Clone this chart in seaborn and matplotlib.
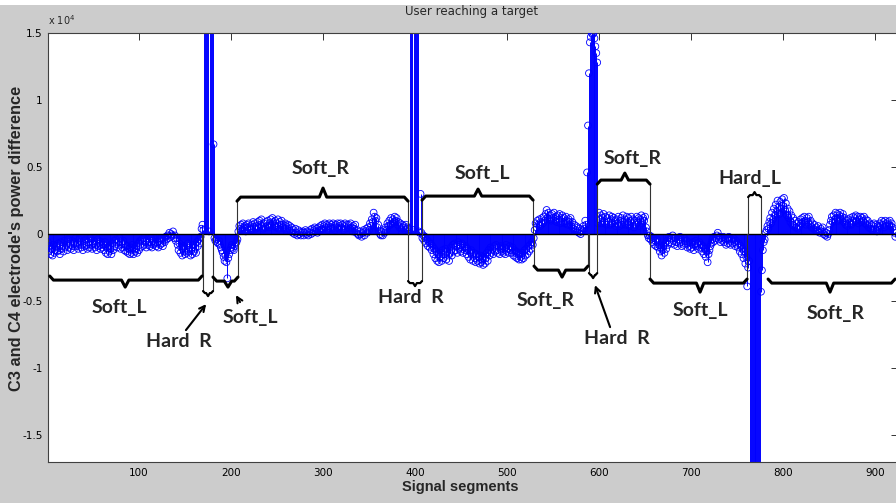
import numpy as np
import matplotlib
matplotlib.use("Agg")
import matplotlib.pyplot as plt
from matplotlib.patches import Rectangle
from matplotlib.ticker import FuncFormatter
import seaborn as sns

# C3 - C4 power difference per signal segment, in hundreds, one list per movement block
soft_l_1 = [
    -6, -13, -9, -15, -11, -16, -8, -14, -12, -9,
    -13, -7, -12, -15, -6, -11, -9, -13, -5, -10,
    -8, -12, -4, -10, -7, -11, -5, -9, -12, -6,
    -3, -9, -7, -11, -4, -8, -10, -6, -12, -5,
    -9, -4, -8, -11, -6, -10, -3, -8, -11, -7,
    -5, -10, -8, -12, -4, -9, -7, -11, -6, -10,
    -8, -12, -6, -14, -10, -15, -9, -13, -11, -15,
    -7, -12, -5, -9, -4, -10, -6, -8, -3, -11,
    -6, -10, -5, -12, -8, -13, -9, -14, -11, -15,
    -10, -14, -8, -15, -11, -13, -9, -14, -7, -12,
    -5, -10, -4, -9, -3, -8, -6, -10, -4, -8,
    -6, -9, -3, -10, -5, -8, -7, -4, -9, -6,
    -10, -4, -8, -3, -7, -9, -5, -6, -2, -4,
    -1, -3, 1, -2, 0, -1, 2, -3, -1, -5,
    -3, -8, -12, -7, -14, -10, -16, -9, -13, -15,
    -11, -14, -7, -13, -10, -16, -12, -15, -8, -13,
    -10, -14, -6, -9, -4, -7, -2, 4, 7,
]
hard_r_1 = [3, 260, 310, 280, 350, 240, 2, 300, 270, 330, 290, 67]
soft_l_2 = [
    -3, -5, -4, -6, -7, -5, -8, -10, -12, -14,
    -17, -20, -16, -21, -33, -18, -15, -12, -10, -8,
    -11, -12, -9, -7, -6, -4,
]
soft_r_1 = [
    2, 6, 4, 7, 3, 8, 5, 6, 2, 7,
    5, 8, 4, 6, 3, 7, 9, 5, 8, 4,
    6, 9, 5, 10, 7, 11, 6, 4, 8, 5,
    9, 6, 10, 5, 8, 11, 7, 12, 9, 6,
    10, 5, 8, 11, 4, 9, 7, 10, 5, 7,
    4, 8, 6, 3, 7, 4, 6, 2, 5, 1,
    3, 0, 4, 1, -1, 3, 0, 2, -1, 1,
    2, -1, 1, 3, 0, 2, -1, 1, 3, 0,
    4, 1, 3, 5, 2, 4, 1, 5, 3, 6,
    3, 7, 4, 6, 8, 5, 7, 3, 6, 8,
    5, 7, 4, 8, 6, 3, 7, 5, 8, 4,
    6, 8, 5, 7, 3, 6, 8, 4, 7, 5,
    7, 4, 8, 5, 2, 6, 4, 7, 1, 3,
    0, -1, 2, 0, -2, 1, 3, -1, 2, 4,
    1, 5, 3, 8, 6, 11, 9, 16, 13, 10,
    12, 5, 7, 2, 0, -1, 2, -1, 3, 1,
    5, 3, 8, 6, 10, 7, 12, 8, 11, 9,
    13, 10, 12, 7, 9, 5, 8, 4, 7, 5,
    6, 3, 7, 4, 5, 2, 4,
]
hard_r_2 = [290, 340, 260, 3, 310, 280, 360, 300, 250, 2, 1, 30]
soft_l_3 = [
    1, -3, -1, -5, -2, -7, -4, -9, -6, -10,
    -7, -12, -9, -15, -11, -18, -13, -20, -15, -21,
    -17, -14, -20, -12, -18, -15, -11, -19, -13, -16,
    -20, -14, -10, -16, -8, -13, -7, -12, -9, -14,
    -6, -11, -8, -13, -7, -14, -10, -12, -9, -15,
    -11, -17, -13, -19, -12, -16, -20, -14, -18, -21,
    -15, -20, -17, -22, -16, -21, -19, -23, -17, -22,
    -18, -14, -20, -12, -16, -10, -14, -11, -15, -9,
    -13, -8, -12, -14, -10, -15, -9, -13, -11, -14,
    -10, -15, -8, -13, -11, -14, -9, -12, -14, -10,
    -16, -12, -17, -13, -18, -14, -19, -15, -17, -19,
    -14, -18, -12, -16, -11, -15, -9, -13, -8, -11,
    -6, -8, -3,
]
soft_r_2 = [
    3, 8, 5, 10, 7, 11, 6, 9, 12, 8,
    13, 10, 15, 18, 12, 16, 11, 14, 10, 15,
    12, 16, 10, 13, 9, 14, 11, 15, 8, 12,
    14, 9, 12, 8, 13, 10, 7, 11, 9, 12,
    6, 9, 4, 7, 3, 6, 2, 5, 1, 4,
    0, 3, 2, 6, 4, 10, 7,
]
hard_r_3 = [46, 81, 120, 143, 147, 150, 149, 150, 146, 140, 135, 128]
soft_r_3 = [
    8, 16, 11, 14, 8, 12, 15, 9, 13, 7,
    12, 9, 14, 7, 11, 13, 8, 12, 10, 6,
    11, 8, 13, 6, 10, 12, 7, 14, 9, 11,
    7, 13, 9, 12, 6, 10, 13, 8, 11, 5,
    10, 7, 13, 9, 12, 6, 11, 14, 8, 12,
    10, 13, 5, 2, -1, -3,
]
soft_l_4 = [
    -1, -4, -2, -6, -3, -8, -5, -9, -4, -10,
    -8, -13, -10, -16, -12, -9, -14, -7, -11, -5,
    -8, -2, -6, -3, -7, -1, -5, -8, -3, -6,
    -9, -4, -7, -2, -6, -9, -5, -8, -3, -7,
    -5, -10, -6, -9, -11, -7, -10, -6, -12, -8,
    -5, -9, -7, -11, -6, -10, -8, -13, -9, -15,
    -11, -17, -13, -21, -15, -12, -9, -7, -4, -6,
    -2, -5, -3, -1, 1, -4, -2, -6, -3, -5,
    -2, -6, -4, -8, -3, -7, -2, -5, -8, -4,
    -7, -3, -6, -9, -5, -8, -10, -7, -13, -9,
    -15, -11, -18, -13, -22, -17, -39, -25, -20,
]
hard_l_1 = [-250, -320, -400, -380, -450, -300, -350, -420, -380, -330, -290, -260]
soft_r_4 = [
    -43, -27, -12, -6, -4, 1, 3, 6, 4, 9,
    12, 8, 16, 11, 19, 14, 22, 17, 25, 20,
    15, 24, 19, 26, 21, 27, 18, 23, 14, 19,
    12, 17, 9, 14, 7, 12, 6, 10, 5, 8,
    4, 9, 6, 11, 8, 12, 9, 13, 10, 7,
    12, 9, 13, 7, 10, 5, 8, 4, 7, 3,
    5, 2, 6, 3, 1, 4, 2, 5, 0, 2,
    -1, 1, -2, 0, 3, 7, 10, 13, 9, 14,
    11, 16, 12, 15, 10, 14, 16, 11, 13, 15,
    9, 12, 7, 10, 6, 11, 8, 12, 7, 10,
    13, 9, 12, 14, 10, 13, 8, 11, 13, 9,
    12, 10, 13, 8, 11, 7, 10, 5, 8, 4,
    7, 3, 6, 8, 4, 7, 2, 6, 5, 8,
    6, 10, 7, 9, 5, 10, 8, 6, 9, 7,
    10, 6, 8, 5, 3, 1, -2,
]

blocks = [soft_l_1, hard_r_1, soft_l_2, soft_r_1, hard_r_2, soft_l_3,
          soft_r_2, hard_r_3, soft_r_3, soft_l_4, hard_l_1, soft_r_4]
power_diff = np.concatenate([np.array(b, dtype=float) for b in blocks]) * 100
segment = np.arange(1, len(power_diff) + 1)

# brace annotations: x start, x end, line y, tip x, tip y, connector lines
braces = [
    (3, 168.5, -3430, 85, -3954, "r"),
    (180.4, 207.6, -3506, 196.7, -3954, "r"),
    (206.5, 392.4, 2760, 300, 3432, "lr"),
    (407.6, 528.3, 2835, 468.5, 3357, "lr"),
    (529.3, 588, -2686, 559.8, -3208, "lr"),
    (598, 655.4, 4028, 628, 4551, "lr"),
    (655.4, 760.9, -3655, 709.8, -4327, "lr"),
    (783.7, 921.7, -3655, 851, -4327, ""),
]
# narrow boxes marking the hard movements
hard_boxes = [
    (169.6, 180.4, -4400, 175, -4625),
    (392.4, 407.6, -3655, 400, -3879),
    (589, 598, -3059, 593.5, -3282),
    (762, 776, 2909, 769, 3133),
]
labels = [
    ("Soft_L", 79, -5446), ("Hard  R", 143.5, -7982), ("Soft_L", 220.7, -6192),
    ("Soft_R", 297, 4924), ("Hard  R", 395.7, -4745), ("Soft_L", 473, 4551),
    ("Soft_R", 542, -4924), ("Hard  R", 619.6, -7759), ("Soft_R", 636, 5670),
    ("Soft_L", 710, -5670), ("Hard_L", 764, 4178), ("Soft_R", 857.6, -5893),
]
arrows = [
    ((173, -5222), (151, -7162)),
    ((205.4, -4551), (209.8, -5073)),
    ((595.6, -3805), (612, -6938)),
]


def draw_brace(ax, x0, x1, y, tip_x, tip_y, w=4, curl=300, lw=2.2):
    s = np.sign(tip_y - y)
    xs = [x0, x0 + w, tip_x - w, tip_x, tip_x + w, x1 - w, x1]
    ys = [y - s * curl, y, y, tip_y, y, y, y - s * curl]
    ax.plot(xs, ys, color="black", lw=lw, solid_joinstyle="round",
            solid_capstyle="round", zorder=5)
    return y - s * curl


sns.set_style("white")
plt.rcParams["font.family"] = ["DejaVu Sans"]

fig = plt.figure(figsize=(8.96, 5.03), dpi=100)
fig.patch.set_facecolor("white")
fig.patches.append(Rectangle((0, 0), 1, 1 - 5 / 503, transform=fig.transFigure,
                             facecolor="#cccccc", edgecolor="none", zorder=-10))

ax = fig.add_axes([48 / 896, 41 / 503, 850 / 896, 429 / 503])
ax.set_facecolor("white")

# stems + markers
ax.vlines(segment, 0, power_diff, colors="blue", lw=0.7, zorder=2)
sns.scatterplot(x=segment, y=power_diff, ax=ax, marker="o", s=24,
                facecolor="none", edgecolor="blue", linewidth=0.6, zorder=3,
                legend=False)
ax.axhline(0, color="black", lw=1.0, zorder=4)

# annotations
for x0, x1, y, tx, ty, conn in braces:
    y_end = draw_brace(ax, x0, x1, y, tx, ty)
    if "l" in conn:
        ax.plot([x0, x0], [0, y_end], color="0.2", lw=0.8, zorder=4)
    if "r" in conn:
        ax.plot([x1, x1], [0, y_end], color="0.2", lw=0.8, zorder=4)

for x0, x1, y, tx, ty in hard_boxes:
    y_end = draw_brace(ax, x0, x1, y, tx, ty, w=2, curl=150, lw=1.6)
    ax.plot([x0, x0], [0, y_end], color="0.2", lw=0.8, zorder=4)
    ax.plot([x1, x1], [0, y_end], color="0.2", lw=0.8, zorder=4)

for txt, lx, ly in labels:
    ax.text(lx, ly, txt, ha="center", va="center", fontsize=14,
            fontweight="bold", family="Lato", zorder=6)

for head, tail in arrows:
    ax.annotate("", xy=head, xytext=tail,
                arrowprops=dict(arrowstyle="->", lw=1.5, color="black",
                                shrinkA=0, shrinkB=0, mutation_scale=10))

ax.set_xlim(1.1, 924.9)
ax.set_ylim(-17000, 15000)
ax.set_xticks(range(100, 1000, 100))
ax.set_yticks([-15000, -10000, -5000, 0, 5000, 10000, 15000])
ax.yaxis.set_major_formatter(FuncFormatter(lambda v, p: f"{v / 1e4:g}"))
ax.tick_params(direction="in", length=5, width=0.7, top=True, right=True,
               colors="0.2", labelsize=7.5, labelcolor="black", pad=4)
for sp in ax.spines.values():
    sp.set_color("0.25")
    sp.set_linewidth(0.8)

ax.text(0.0, 1.03, r"x 10$^4$", transform=ax.transAxes, fontsize=7,
        va="center", ha="left")
fig.text(472 / 896, 1 - 12 / 503, "User reaching a target", ha="center",
         va="center", fontsize=8.5)
ax.set_xlabel("Signal segments", fontsize=10.5, fontweight="bold",
              family="Liberation Sans")
ax.xaxis.set_label_coords((460 - 48) / 850, (462 - 480) / 429)
ax.set_ylabel("C3 and C4 electrode's power difference", fontsize=11.8,
              fontweight="bold", family="Liberation Sans")
ax.yaxis.set_label_coords((24 - 48) / 850, (462 - 238) / 429)

fig.savefig("out.png", dpi=100)
